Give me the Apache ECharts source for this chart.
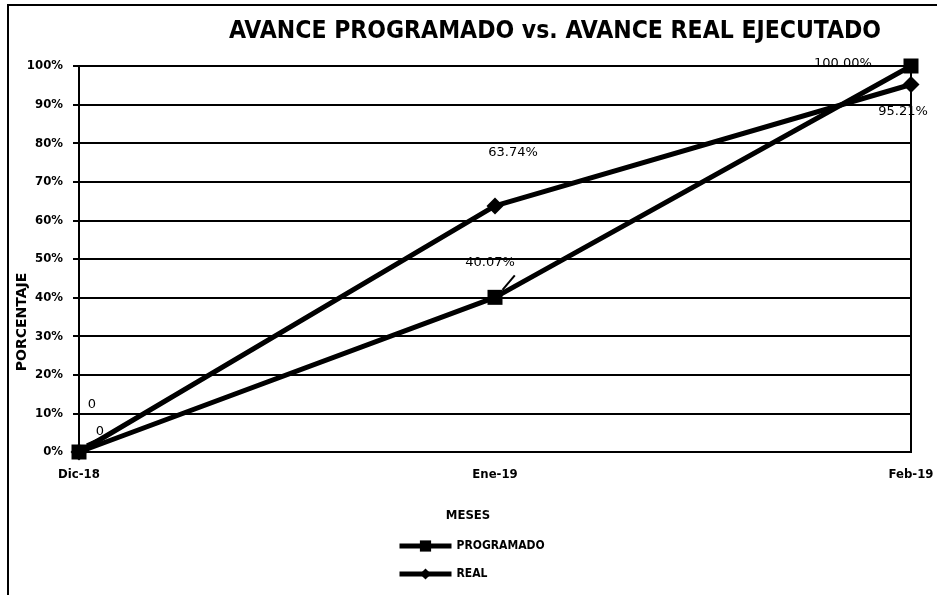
<!DOCTYPE html>
<html><head><meta charset="utf-8">
<script src="https://cdn.jsdelivr.net/npm/echarts@6/dist/echarts.min.js"></script>
<style>html,body{margin:0;padding:0;background:#fff}#c{width:937px;height:595px}</style>
</head><body><div id="c"></div>
<script>
const categories = ['Dic-18', 'Ene-19', 'Feb-19'];
const programado = [0, 40.07, 100];
const real = [0, 63.74, 95.21];
const yTicks = [0, 10, 20, 30, 40, 50, 60, 70, 80, 90, 100];

const progOffsets = [[21, -20], [-5, -35], [-68, -2]];
const realOffsets = [[13, -47], [18, -53], [-8, 27]];
const progLeader = [true, true, true];
const fmt = v => v === 0 ? '0' : v.toFixed(2) + '%';
const F = '"DejaVu Sans Condensed", "DejaVu Sans", sans-serif';
const FL = '"DejaVu Sans", sans-serif';

function mk(vals, offs, leader) {
  return vals.map((v, i) => ({
    value: v,
    label: { show: true, position: 'inside', offset: offs[i], formatter: fmt(v) },
    labelLine: { show: !!(leader && leader[i]), lineStyle: { color: '#000', width: 2 } }
  }));
}

const chart = echarts.init(document.getElementById('c'));
chart.setOption({
  backgroundColor: '#fff',
  animation: false,
  title: {
    text: 'AVANCE PROGRAMADO vs. AVANCE REAL EJECUTADO',
    left: 550, top: 14, textAlign: 'center',
    textStyle: { fontFamily: F, fontWeight: 'bold', fontSize: 24.5, color: '#000' }
  },
  legend: {
    orient: 'vertical', left: 392, top: 535, itemGap: 16,
    itemWidth: 52, itemHeight: 14,
    lineStyle: { width: 5 },
    textStyle: { fontFamily: F, fontWeight: 'bold', fontSize: 12, color: '#000' },
    data: ['PROGRAMADO', 'REAL']
  },
  grid: { left: 79, right: 26, top: 66, bottom: 143, show: true, borderColor: '#000', borderWidth: 2,
    containLabel: false, outerBoundsMode: 'none' },
  xAxis: {
    type: 'category', data: categories, boundaryGap: false,
    name: 'MESES', nameLocation: 'middle', nameGap: 57, nameMoveOverlap: false,
    nameTextStyle: { fontFamily: F, fontWeight: 'bold', fontSize: 13, color: '#000', padding: [0, 54, 0, 0] },
    axisLine: { lineStyle: { color: '#000', width: 2 } },
    axisTick: { show: false },
    axisLabel: { fontFamily: F, fontWeight: 'bold', fontSize: 13, color: '#000', margin: 16 },
    splitLine: { show: false }
  },
  yAxis: {
    type: 'value', min: 0, max: 100, interval: 10,
    name: 'PORCENTAJE', nameLocation: 'middle', nameGap: 50, nameMoveOverlap: false,
    nameTextStyle: { fontFamily: FL, fontWeight: 'bold', fontSize: 14, color: '#000', padding: [0, 126, 0, 0] },
    axisLine: { show: true, lineStyle: { color: '#000', width: 2 } },
    axisTick: { show: true, length: 6, lineStyle: { color: '#000', width: 2 } },
    axisLabel: { fontFamily: F, fontWeight: 'bold', fontSize: 13, color: '#000', margin: 16,
      formatter: v => v + '%' },
    splitLine: { lineStyle: { color: '#000', width: 2 } }
  },
  series: [
    {
      name: 'PROGRAMADO', type: 'line', data: mk(programado, progOffsets, progLeader),
      symbol: 'rect', symbolSize: 15,
      lineStyle: { color: '#000', width: 5 }, itemStyle: { color: '#000' },
      label: { fontFamily: FL, fontSize: 13, color: '#000' }
    },
    {
      name: 'REAL', type: 'line', data: mk(real, realOffsets, null),
      symbol: 'diamond', symbolSize: 17,
      lineStyle: { color: '#000', width: 5 }, itemStyle: { color: '#000' },
      label: { fontFamily: FL, fontSize: 13, color: '#000' }
    }
  ],
  graphic: [
    { type: 'rect', shape: { x: 8, y: 5, width: 960, height: 620 }, style: { fill: 'none', stroke: '#000', lineWidth: 2 } }
  ]
});
</script></body></html>
